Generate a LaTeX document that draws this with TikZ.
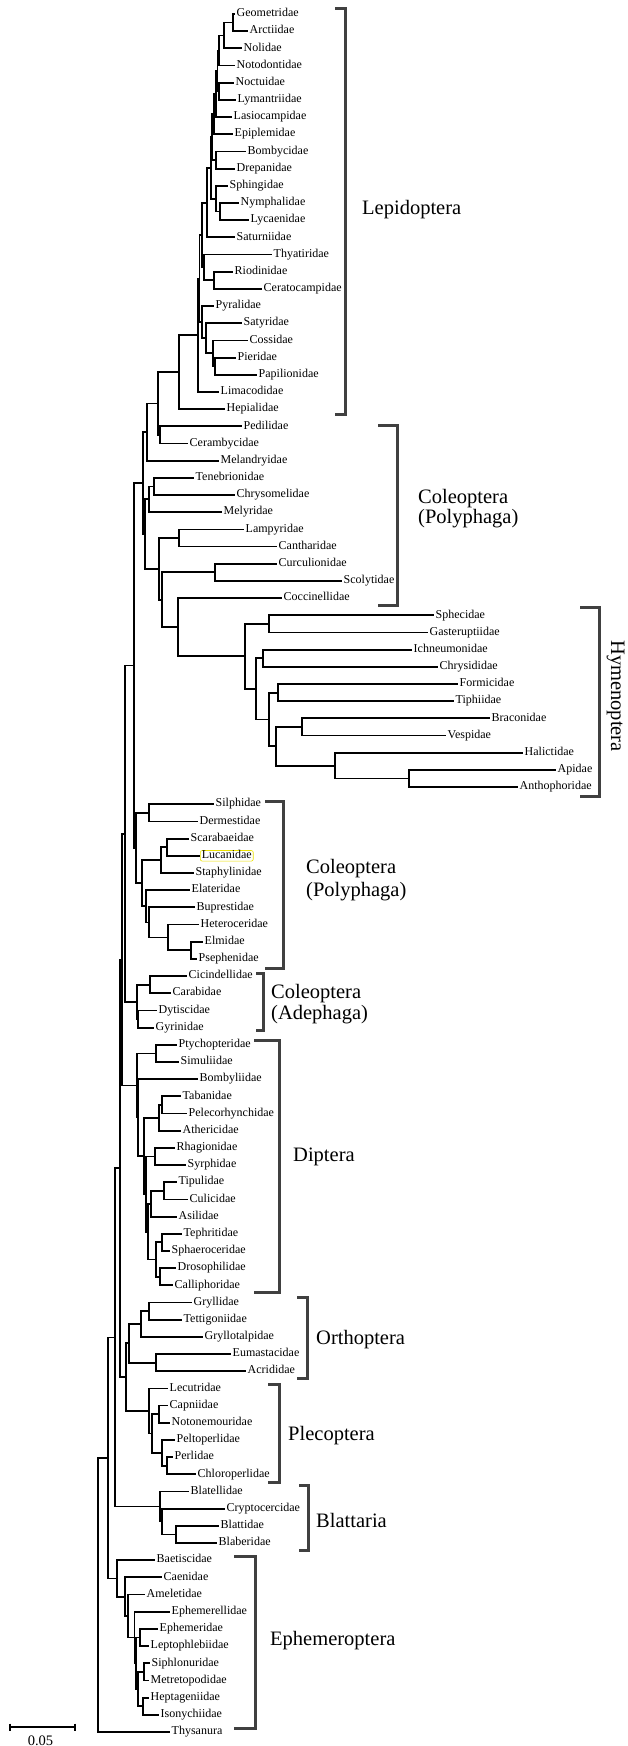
\documentclass[tikz,border=0pt]{standalone}
\usepackage{fontspec}
\setmainfont{Liberation Serif}
\usetikzlibrary{calc}
\definecolor{hl}{RGB}{235,225,0}
\definecolor{brkcol}{RGB}{64,64,64}
\newcommand\lf[4]{\node[leaflabel] (#1) at (#2,{14+17.18*#3}) {#4};}
\newcommand\cl[4]{\path let \p1=(#3.center), \p2=(#4.center) in coordinate (#1) at (#2pt,{(\y1+\y2)/2});
  \draw[treeline] (#1) |- (#3);
  \draw[treeline] (#1) |- (#4);}
\newcommand\brk[4]{\draw[bracketline] (#1,#3) -- (#2,#3) -- (#2,#4) -- (#1,#4);}
\begin{document}
\begin{tikzpicture}[x=1pt,y=-1pt,
  treeline/.style={line width=1.8pt, line join=miter},
  leaflabel/.style={anchor=west, inner xsep=1.5pt, inner ysep=0pt, text height=8pt, text depth=2.6pt, font=\fontsize{12}{14}\selectfont},
  grouplabel/.style={anchor=base west, inner sep=0pt, font=\fontsize{20.5}{24}\selectfont},
  bracketline/.style={draw=brkcol, line width=3pt, line join=miter},
  scaleline/.style={line width=1.5pt}]
\useasboundingbox (0,0) rectangle (627,1746);
% ---------------- leaves ----------------
\lf{geo}{235}{0}{Geometridae}
\lf{arc}{248}{1}{Arctiidae}
\lf{nol}{242}{2}{Nolidae}
\lf{noto}{235}{3}{Notodontidae}
\lf{noct}{234}{4}{Noctuidae}
\lf{lym}{236}{5}{Lymantriidae}
\lf{las}{232}{6}{Lasiocampidae}
\lf{epi}{233}{7}{Epiplemidae}
\lf{bom}{246}{8}{Bombycidae}
\lf{drep}{235}{9}{Drepanidae}
\lf{sphi}{228}{10}{Sphingidae}
\lf{nym}{239}{11}{Nymphalidae}
\lf{lyc}{249}{12}{Lycaenidae}
\lf{sat}{235}{13}{Saturniidae}
\lf{thy}{272}{14}{Thyatiridae}
\lf{rio}{233}{15}{Riodinidae}
\lf{cer}{262}{16}{Ceratocampidae}
\lf{pyr}{214}{17}{Pyralidae}
\lf{saty}{242}{18}{Satyridae}
\lf{cos}{248}{19}{Cossidae}
\lf{pie}{236}{20}{Pieridae}
\lf{pap}{257}{21}{Papilionidae}
\lf{lim}{219}{22}{Limacodidae}
\lf{hep}{225}{23}{Hepialidae}
\lf{ped}{242}{24}{Pedilidae}
\lf{cera}{188}{25}{Cerambycidae}
\lf{mel}{219}{26}{Melandryidae}
\lf{ten}{194}{27}{Tenebrionidae}
\lf{chry}{235}{28}{Chrysomelidae}
\lf{mely}{222}{29}{Melyridae}
\lf{lam}{244}{30}{Lampyridae}
\lf{can}{277}{31}{Cantharidae}
\lf{cur}{277}{32}{Curculionidae}
\lf{sco}{342}{33}{Scolytidae}
\lf{coc}{282}{34}{Coccinellidae}
\lf{sph}{434}{35}{Sphecidae}
\lf{gas}{428}{36}{Gasteruptiidae}
\lf{ich}{412}{37}{Ichneumonidae}
\lf{chrs}{438}{38}{Chrysididae}
\lf{for}{458}{39}{Formicidae}
\lf{tip}{454}{40}{Tiphiidae}
\lf{bra}{490}{41}{Braconidae}
\lf{ves}{446}{42}{Vespidae}
\lf{hal}{523}{43}{Halictidae}
\lf{api}{556}{44}{Apidae}
\lf{ant}{518}{45}{Anthophoridae}
\lf{sil}{214}{46}{Silphidae}
\lf{der}{198}{47}{Dermestidae}
\lf{sca}{189}{48}{Scarabaeidae}
\node[leaflabel, draw=hl, line width=0.6pt, rounded corners=2pt] (luc) at (200,{14+17.18*49}) {Lucanidae};
\lf{sta}{194}{50}{Staphylinidae}
\lf{ela}{190}{51}{Elateridae}
\lf{bup}{195}{52}{Buprestidae}
\lf{het}{199}{53}{Heteroceridae}
\lf{elm}{203}{54}{Elmidae}
\lf{pse}{197}{55}{Psephenidae}
\lf{cic}{187}{56}{Cicindellidae}
\lf{car}{171}{57}{Carabidae}
\lf{dyt}{157}{58}{Dytiscidae}
\lf{gyr}{154}{59}{Gyrinidae}
\lf{pty}{177}{60}{Ptychopteridae}
\lf{sim}{179}{61}{Simuliidae}
\lf{bomb}{198}{62}{Bombyliidae}
\lf{tab}{181}{63}{Tabanidae}
\lf{pel}{187}{64}{Pelecorhynchidae}
\lf{ath}{181}{65}{Athericidae}
\lf{rha}{175}{66}{Rhagionidae}
\lf{syr}{186}{67}{Syrphidae}
\lf{tipu}{177}{68}{Tipulidae}
\lf{cul}{188}{69}{Culicidae}
\lf{asi}{177}{70}{Asilidae}
\lf{tep}{182}{71}{Tephritidae}
\lf{spha}{170}{72}{Sphaeroceridae}
\lf{dro}{176}{73}{Drosophilidae}
\lf{cal}{173}{74}{Calliphoridae}
\lf{gry}{192}{75}{Gryllidae}
\lf{tet}{182}{76}{Tettigoniidae}
\lf{gtal}{203}{77}{Gryllotalpidae}
\lf{eum}{231}{78}{Eumastacidae}
\lf{acr}{246}{79}{Acrididae}
\lf{lec}{168}{80}{Lecutridae}
\lf{cap}{168}{81}{Capniidae}
\lf{not}{170}{82}{Notonemouridae}
\lf{pelt}{175}{83}{Peltoperlidae}
\lf{per}{173}{84}{Perlidae}
\lf{chl}{196}{85}{Chloroperlidae}
\lf{blat}{189}{86}{Blatellidae}
\lf{cry}{225}{87}{Cryptocercidae}
\lf{bla}{219}{88}{Blattidae}
\lf{blab}{217}{89}{Blaberidae}
\lf{bae}{155}{90}{Baetiscidae}
\lf{cae}{162}{91}{Caenidae}
\lf{ame}{145}{92}{Ameletidae}
\lf{ephm}{170}{93}{Ephemerellidae}
\lf{ephe}{158}{94}{Ephemeridae}
\lf{lep}{149}{95}{Leptophlebiidae}
\lf{sip}{150}{96}{Siphlonuridae}
\lf{met}{149}{97}{Metretopodidae}
\lf{hept}{149}{98}{Heptageniidae}
\lf{iso}{159}{99}{Isonychiidae}
\lf{thys}{170}{100}{Thysanura}
% ---------------- clades ----------------
% Lepidoptera
\cl{ga}{233}{geo}{arc}
\cl{a2}{224}{ga}{nol}
\cl{a3}{219}{a2}{noto}
\cl{nl}{219}{noct}{lym}
\cl{a4}{217.5}{a3}{nl}
\cl{a5}{216}{a4}{las}
\cl{a6}{214}{a5}{epi}
\cl{bd}{216}{bom}{drep}
\cl{a9}{212}{a6}{bd}
\cl{b2}{220}{nym}{lyc}
\cl{b3}{216}{sphi}{b2}
\cl{c1}{211}{a9}{b3}
\cl{d1}{207}{c1}{sat}
\cl{rc}{214}{rio}{cer}
\cl{e1}{204}{thy}{rc}
\cl{f1}{202}{d1}{e1}
\cl{pp}{215}{pie}{pap}
\cl{cpp}{213}{cos}{pp}
\cl{scpp}{206}{saty}{cpp}
\cl{g1}{202}{pyr}{scpp}
\cl{f2}{199.5}{f1}{g1}
\cl{f3}{198}{f2}{lim}
\cl{h1}{179}{f3}{hep}
% Coleoptera (Polyphaga) + Hymenoptera
\cl{pc}{160}{ped}{cera}
\cl{i1}{158}{h1}{pc}
\cl{j1}{147}{i1}{mel}
\cl{tc}{154}{ten}{chry}
\cl{tcm}{149}{tc}{mely}
\cl{lc}{179}{lam}{can}
\cl{cs}{215}{cur}{sco}
\cl{sg}{269}{sph}{gas}
\cl{ic}{263}{ich}{chrs}
\cl{ft}{278}{for}{tip}
\cl{bv}{302}{bra}{ves}
\cl{aa2}{409}{api}{ant}
\cl{haa}{335}{hal}{aa2}
\cl{bvh}{276}{bv}{haa}
\cl{h4}{269}{ft}{bvh}
\cl{h3}{256}{ic}{h4}
\cl{hr}{245}{sg}{h3}
\cl{o1}{178}{coc}{hr}
\cl{n1}{162}{cs}{o1}
\cl{m1}{159}{lc}{n1}
\cl{k1}{145}{tcm}{m1}
\cl{k0}{143}{j1}{k1}
% Coleoptera (Polyphaga) 2
\cl{sd}{149}{sil}{der}
\cl{sl}{167}{sca}{luc}
\cl{ssl}{161}{sl}{sta}
\cl{ep2}{191}{elm}{pse}
\cl{hep2}{168}{het}{ep2}
\cl{bhep}{149}{bup}{hep2}
\cl{ebh}{146}{ela}{bhep}
\cl{r1}{142}{ssl}{ebh}
\cl{p2}{136}{sd}{r1}
\cl{q1}{134}{k0}{p2}
% Adephaga
\cl{cc}{150}{cic}{car}
\cl{dg}{138}{dyt}{gyr}
\cl{s1}{137}{cc}{dg}
\cl{t1}{125}{q1}{s1}
% Diptera
\cl{ps}{156}{pty}{sim}
\cl{tpa0}{162}{tab}{pel}
\cl{tpa}{159}{tpa0}{ath}
\cl{rs}{155}{rha}{syr}
\cl{tcu}{164}{tipu}{cul}
\cl{tca}{151}{tcu}{asi}
\cl{ts}{162}{tep}{spha}
\cl{dc}{160}{dro}{cal}
\cl{tsdc}{156}{ts}{dc}
\cl{z1}{148}{tca}{tsdc}
\cl{y1}{146}{rs}{z1}
\cl{w2}{144}{tpa}{y1}
\cl{v1}{138}{bomb}{w2}
\cl{u1}{137}{ps}{v1}
\cl{aa}{122}{t1}{u1}
% Orthoptera
\cl{gt}{149}{gry}{tet}
\cl{gtg}{141}{gt}{gtal}
\cl{ea}{156}{eum}{acr}
\cl{orth}{129}{gtg}{ea}
% Plecoptera
\cl{cn}{159}{cap}{not}
\cl{pc2}{167}{per}{chl}
\cl{ppc}{162}{pelt}{pc2}
\cl{cnpp}{152}{cn}{ppc}
\cl{plec}{149}{lec}{cnpp}
\cl{op}{126}{orth}{plec}
\cl{ab}{120}{aa}{op}
% Blattaria
\cl{bb}{176}{bla}{blab}
\cl{cbb}{162}{cry}{bb}
\cl{blt}{160}{blat}{cbb}
\cl{ac}{115}{ab}{blt}
% Ephemeroptera
\cl{sm}{144}{sip}{met}
\cl{hi}{143}{hept}{iso}
\cl{smhi}{138}{sm}{hi}
\cl{el}{140}{ephe}{lep}
\cl{e5}{136}{el}{smhi}
\cl{e4}{134.5}{ephm}{e5}
\cl{e3}{128}{ame}{e4}
\cl{e2}{125}{cae}{e3}
\cl{eph}{117}{bae}{e2}
\cl{ad}{108}{ac}{eph}
\cl{root}{98}{ad}{thys}
% ---------------- brackets ----------------
\brk{335}{345}{8}{414}
\brk{378}{397}{425}{605}
\brk{580}{599}{607}{796}
\brk{265}{283}{801}{968}
\brk{256}{263}{973}{1030}
\brk{254}{279}{1040}{1292}
\brk{297}{307}{1297}{1378}
\brk{268}{279}{1384}{1482}
\brk{299}{308}{1485}{1550}
\brk{234}{255}{1556}{1728}
% ---------------- group labels ----------------
\node[grouplabel] (lLep) at (362,214) {Lepidoptera};
\node[grouplabel] (lCol1) at (418,503) {Coleoptera};
\node[grouplabel] (lPol1) at (418,523) {(Polyphaga)};
\node[anchor=base, inner sep=0pt, rotate=-90, font=\fontsize{20.5}{24}\selectfont] (lHym) at (611,696) {Hymenoptera};
\node[grouplabel] (lCol2) at (306,873) {Coleoptera};
\node[grouplabel] (lPol2) at (306,896) {(Polyphaga)};
\node[grouplabel] (lCol3) at (271,998) {Coleoptera};
\node[grouplabel] (lAde) at (271,1019) {(Adephaga)};
\node[grouplabel] (lDip) at (293,1161) {Diptera};
\node[grouplabel] (lOrt) at (316,1344) {Orthoptera};
\node[grouplabel] (lPle) at (288,1440) {Plecoptera};
\node[grouplabel] (lBla) at (316,1527) {Blattaria};
\node[grouplabel] (lEph) at (270,1645) {Ephemeroptera};
% ---------------- scale bar ----------------
\coordinate (sb1) at (10,1727);
\coordinate (sb2) at (75,1727);
\draw[scaleline] (sb1) -- (sb2);
\draw[scaleline] ($(sb1)+(0,-3.5)$) -- ($(sb1)+(0,3.5)$);
\draw[scaleline] ($(sb2)+(0,-3.5)$) -- ($(sb2)+(0,3.5)$);
\node[anchor=base, inner sep=0pt, font=\fontsize{14.5}{16}\selectfont] (sblabel) at (40.5,1745) {0.05};
\end{tikzpicture}
\end{document}
